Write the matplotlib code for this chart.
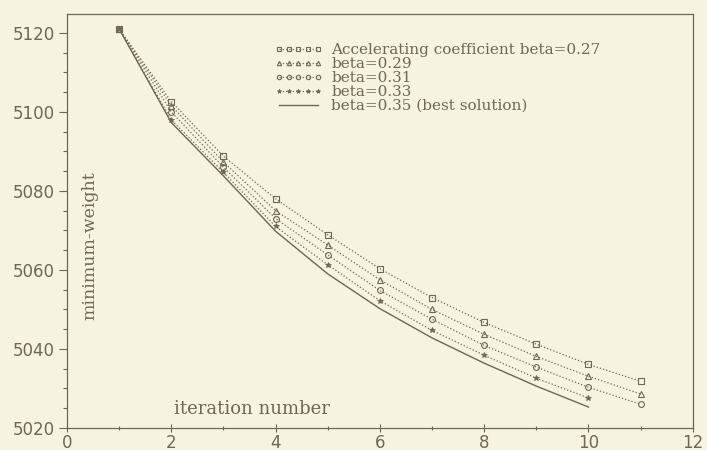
import numpy as np
import matplotlib
matplotlib.use("Agg")
import matplotlib.pyplot as plt
from matplotlib.ticker import MultipleLocator

# iteration number
it_11 = [1, 2, 3, 4, 5, 6, 7, 8, 9, 10, 11]
it_10 = [1, 2, 3, 4, 5, 6, 7, 8, 9, 10]

# minimum-weight per beta
w_027 = [5121, 5102.6, 5088.8, 5078.0, 5068.9, 5060.3, 5053.0, 5046.7, 5041.2, 5036.1, 5031.8]
w_029 = [5121, 5101.6, 5087.3, 5075.0, 5066.3, 5057.5, 5050.0, 5043.7, 5038.1, 5033.1, 5028.6]
w_031 = [5121, 5100.0, 5086.0, 5073.0, 5063.8, 5054.8, 5047.5, 5040.9, 5035.4, 5030.3, 5026.0]
w_033 = [5121, 5098.0, 5084.7, 5071.0, 5061.3, 5052.2, 5044.7, 5038.4, 5032.6, 5027.6]
w_035 = [5121, 5097.3, 5083.8, 5069.8, 5059.0, 5050.2, 5042.8, 5036.4, 5030.6, 5025.3]

labels = ["Accelerating coefficient beta=0.27", "beta=0.29", "beta=0.31",
          "beta=0.33", "beta=0.35 (best solution)"]

bg = "#f6f3e2"
ink = "#6f6656"

fig = plt.figure(figsize=(7.07, 4.5), dpi=100, facecolor=bg)
ax = fig.add_axes([0.0948, 0.049, 0.885, 0.92], facecolor=bg)

ms = 4.2
ax.plot(it_11, w_027, ls=":", lw=0.9, c=ink, marker="s", ms=ms, mfc="none", mew=0.8, label=labels[0])
ax.plot(it_11, w_029, ls=":", lw=0.9, c=ink, marker="^", ms=ms, mfc="none", mew=0.8, label=labels[1])
ax.plot(it_11, w_031, ls=":", lw=0.9, c=ink, marker="o", ms=ms, mfc="none", mew=0.8, label=labels[2])
ax.plot(it_10, w_033, ls=":", lw=0.9, c=ink, marker="*", ms=ms, mew=0.6, label=labels[3])
ax.plot(it_10, w_035, ls="-", lw=1.0, c=ink, label=labels[4])

ax.set_xlim(0, 12)
ax.set_ylim(5020, 5124.8)
ax.xaxis.set_major_locator(MultipleLocator(2))
ax.xaxis.set_minor_locator(MultipleLocator(1))
ax.yaxis.set_major_locator(MultipleLocator(20))
ax.yaxis.set_minor_locator(MultipleLocator(5))
ax.tick_params(which="major", length=6, width=0.8, color=ink, labelcolor=ink, labelsize=12)
ax.tick_params(which="minor", length=3, width=0.8, color=ink)
ax.tick_params(axis="x", which="both", direction="inout", pad=1)
ax.tick_params(axis="y", which="major", pad=3)
for s in ax.spines.values():
    s.set_color(ink)
    s.set_linewidth(0.9)

fnt = "DejaVu Serif"
ax.text(0.037, 0.44, "minimum-weight", transform=ax.transAxes, rotation=90,
        ha="center", va="center", fontsize=12.5, family=fnt, color=ink)
ax.text(0.295, 0.046, "iteration number", transform=ax.transAxes,
        ha="center", va="center", fontsize=13, family=fnt, color=ink)

leg = ax.legend(loc="upper left", bbox_to_anchor=(0.332, 0.93), frameon=False,
                prop={"family": fnt, "size": 11}, handlelength=3.1, handletextpad=0.6,
                labelspacing=0.0, markerscale=0.75, numpoints=5, labelcolor=ink,
                borderaxespad=0, borderpad=0)

fig.savefig("out.png", dpi=100, facecolor=bg)
